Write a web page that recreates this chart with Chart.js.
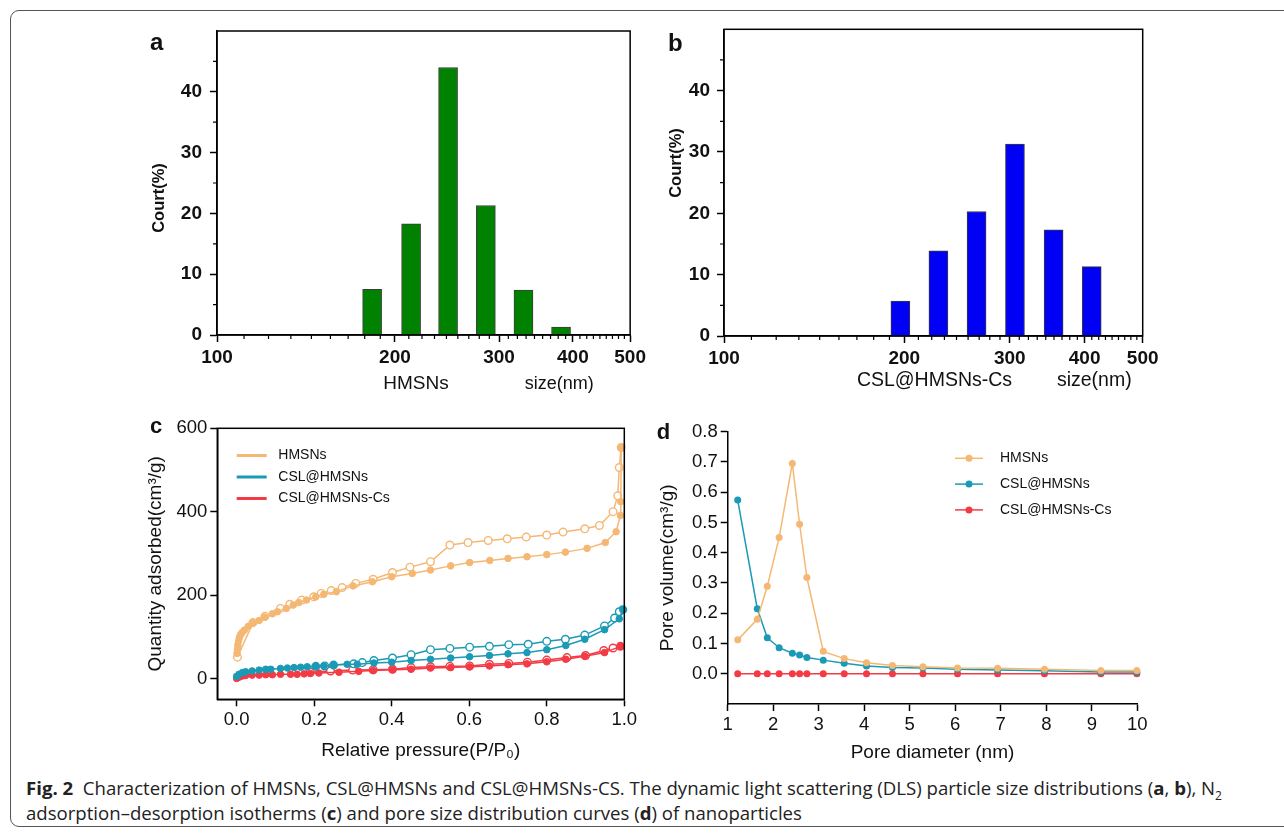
<!DOCTYPE html>
<html>
<head>
<meta charset="utf-8">
<script src="https://cdn.jsdelivr.net/npm/chart.js@4.4.1/dist/chart.umd.min.js"></script>
<style>
  body { margin:0; background:#fff; width:1284px; height:833px; overflow:hidden; position:relative;
         font-family:"Liberation Sans", Arial, sans-serif; color:#111; }
  canvas { position:absolute; }
  .t { position:absolute; white-space:nowrap; line-height:1; }
  #frame { position:absolute; left:10px; top:10px; width:1300px; height:815px;
           border:1.3px solid #555; border-radius:9px; }
  #caption { position:absolute; left:26px; top:774.5px; font-family:"Open Sans", sans-serif;
             font-size:18.6px; line-height:25px; color:#222; white-space:nowrap; }
  #caption sub { font-size:12px; line-height:0; }
</style>
</head>
<body>
<div id="frame"></div>
<canvas id="chartA" width="510" height="390" style="left:140px;top:10px"></canvas>
<canvas id="chartB" width="520" height="390" style="left:650px;top:10px"></canvas>
<canvas id="chartC" width="510" height="360" style="left:140px;top:410px"></canvas>
<canvas id="chartD" width="530" height="360" style="left:640px;top:410px"></canvas>
<div id="caption"><b>Fig. 2</b>&nbsp; Characterization of HMSNs, CSL@HMSNs and CSL@HMSNs-CS. The dynamic light scattering (DLS) particle size distributions (<b>a</b>, <b>b</b>), N<sub>2</sub><br>adsorption–desorption isotherms (<b>c</b>) and pore size distribution curves (<b>d</b>) of nanoparticles</div>

<script>
// ---- a: DLS of HMSNs
const sizeA = [183, 213, 246, 285, 330, 382];
const countA = [7.5, 18.3, 44.0, 21.3, 7.4, 1.3];
// ---- b: DLS of CSL@HMSNs-Cs
const sizeB = [197, 228, 264, 306, 355, 411];
const countB = [5.7, 13.9, 20.3, 31.3, 17.3, 11.3];
const sizeTicks = [100, 200, 300, 400, 500];
const countTicks = [0, 10, 20, 30, 40];
const countMinor = [5, 15, 25, 35, 45];

// ---- c: N2 isotherms (ads = filled, des = open)
const hmsnAdsP = [0.001, 0.002, 0.003, 0.005, 0.007, 0.010, 0.014, 0.020, 0.030, 0.042, 0.058, 0.072, 0.092, 0.105, 0.128, 0.146, 0.160, 0.180, 0.204, 0.225, 0.257, 0.300, 0.350, 0.400, 0.453, 0.500, 0.552, 0.601, 0.653, 0.700, 0.749, 0.800, 0.848, 0.904, 0.951, 0.979, 0.990, 0.991, 0.992];
const hmsnAdsQ = [60, 70, 80, 90, 98, 105, 110, 116, 125, 133, 139, 147, 155, 160, 168, 176, 182, 188, 196, 202, 208, 222, 232, 244, 252, 260, 270, 278, 283, 288, 292, 297, 303, 312, 326, 352, 391, 424, 554];
const hmsnDesP = [0.992, 0.987, 0.983, 0.971, 0.936, 0.898, 0.842, 0.800, 0.747, 0.698, 0.649, 0.597, 0.550, 0.500, 0.447, 0.402, 0.352, 0.307, 0.272, 0.244, 0.218, 0.199, 0.168, 0.137, 0.113, 0.073, 0.042, 0.002];
const hmsnDesQ = [554, 506, 438, 400, 367, 359, 351, 344, 339, 335, 331, 326, 320, 280, 267, 254, 238, 228, 218, 211, 204, 196, 188, 178, 168, 149, 134, 51];

const cslAdsP = [0.000, 0.006, 0.015, 0.023, 0.040, 0.058, 0.075, 0.088, 0.113, 0.131, 0.148, 0.165, 0.182, 0.204, 0.225, 0.250, 0.285, 0.311, 0.354, 0.400, 0.450, 0.500, 0.552, 0.601, 0.652, 0.700, 0.749, 0.800, 0.849, 0.898, 0.949, 0.987, 0.996];
const cslAdsQ = [5, 10, 14, 16, 18, 20, 22, 22, 24, 25, 26, 27, 28, 29, 30, 32, 34, 34, 37, 39, 43, 46, 49, 52, 55, 59, 62, 69, 79, 94, 117, 143, 165];
const cslDesP = [0.996, 0.987, 0.975, 0.949, 0.898, 0.848, 0.800, 0.752, 0.702, 0.652, 0.601, 0.550, 0.500, 0.450, 0.402, 0.354, 0.324, 0.302, 0.250, 0.227, 0.204];
const cslDesQ = [165, 160, 145, 126, 104, 94, 89, 82, 81, 77, 75, 72, 69, 57, 49, 43, 38, 35, 32, 30, 29];

const csAdsP = [0.000, 0.006, 0.015, 0.023, 0.040, 0.058, 0.075, 0.092, 0.113, 0.139, 0.156, 0.174, 0.190, 0.212, 0.264, 0.315, 0.352, 0.402, 0.450, 0.500, 0.552, 0.601, 0.652, 0.700, 0.749, 0.800, 0.849, 0.898, 0.949, 0.990];
const csAdsQ = [0, 3, 6, 7, 8, 8, 9, 9, 10, 10, 10, 11, 12, 13, 15, 17, 19, 21, 22, 25, 26, 28, 30, 33, 35, 40, 46, 53, 62, 77];
const csDesP = [0.990, 0.971, 0.947, 0.900, 0.852, 0.800, 0.750, 0.702, 0.652, 0.601, 0.550, 0.500, 0.450, 0.402, 0.352, 0.299, 0.242, 0.190];
const csDesQ = [77, 73, 67, 55, 50, 44, 39, 36, 34, 30, 29, 28, 26, 22, 21, 20, 18, 15];

const pressTicks = [0, 0.2, 0.4, 0.6, 0.8, 1.0];
const quantTicks = [0, 200, 400, 600];

// ---- d: pore size distribution
const poreD = [1.22, 1.65, 1.87, 2.13, 2.42, 2.58, 2.74, 3.10, 3.56, 4.05, 4.62, 5.29, 6.05, 6.93, 7.96, 9.20, 9.99];
const volHmsn = [0.112, 0.180, 0.289, 0.450, 0.695, 0.494, 0.318, 0.074, 0.050, 0.036, 0.027, 0.023, 0.019, 0.018, 0.015, 0.011, 0.011];
const volCsl = [0.574, 0.215, 0.119, 0.086, 0.068, 0.062, 0.054, 0.045, 0.035, 0.026, 0.021, 0.019, 0.015, 0.012, 0.010, 0.006, 0.006];
const volCs = [0, 0, 0, 0, 0, 0, 0, 0, 0, 0, 0, 0, 0, 0, 0, 0, 0];
const diaTicks = [1, 2, 3, 4, 5, 6, 7, 8, 9, 10];
const volTicks = [0, 0.1, 0.2, 0.3, 0.4, 0.5, 0.6, 0.7, 0.8];

const names = ['HMSNs', 'CSL@HMSNs', 'CSL@HMSNs-Cs'];
const orange = '#F5B874', teal = '#1B9AB5', red = '#F43A44';

Chart.defaults.font.family = '"Liberation Sans", Arial, sans-serif';
Chart.defaults.color = '#111';

// minor ticks between the log labels (Origin style, 8 per hundred)
const sizeMinor = [];
for (let k = 100; k < 500; k += 100) {
  for (let j = 1; j < 9; j++) sizeMinor.push(k + j * 100 / 9);
}

const frameBox = {
  id: 'frameBox',
  afterDraw(chart) {
    const {ctx, chartArea: a} = chart;
    ctx.save();
    ctx.strokeStyle = '#000';
    ctx.lineWidth = 1.5;
    ctx.strokeRect(a.left, a.top, a.right - a.left, a.bottom - a.top);
    ctx.restore();
  }
};

const minorTicks = {
  id: 'minorTicks',
  afterDraw(chart, args, opts) {
    const {ctx, chartArea: a, scales} = chart;
    ctx.save();
    ctx.strokeStyle = '#000';
    ctx.lineWidth = 1.2;
    ctx.beginPath();
    (opts.x || []).forEach(v => {
      const px = scales.x.getPixelForValue(v);
      ctx.moveTo(px, a.bottom);
      ctx.lineTo(px, a.bottom + opts.len);
    });
    (opts.y || []).forEach(v => {
      const py = scales.y.getPixelForValue(v);
      ctx.moveTo(a.left - opts.len, py);
      ctx.lineTo(a.left, py);
    });
    ctx.stroke();
    ctx.restore();
  }
};

const innerLegend = {
  id: 'innerLegend',
  afterDraw(chart, args, o) {
    const ctx = chart.ctx;
    const items = chart.data.datasets.filter(d => !d.noLegend);
    ctx.save();
    items.forEach((ds, i) => {
      const yy = o.y + i * o.gap;
      ctx.strokeStyle = ds.borderColor;
      ctx.lineWidth = o.lineWidth;
      ctx.beginPath();
      ctx.moveTo(o.x, yy);
      ctx.lineTo(o.x + o.len, yy);
      ctx.stroke();
      if (o.marker) {
        ctx.fillStyle = ds.borderColor;
        ctx.beginPath();
        ctx.arc(o.x + o.len / 2, yy, o.marker, 0, Math.PI * 2);
        ctx.fill();
      }
      ctx.fillStyle = '#111';
      ctx.font = o.font;
      ctx.textBaseline = 'middle';
      ctx.fillText(ds.label, o.x + o.len + o.textGap, yy);
    });
    ctx.restore();
  }
};

const axisGrid = {drawOnChartArea: false, offset: false, color: '#000', tickLength: 7, tickWidth: 1.5};
const axisBorder = {color: '#000', width: 1.5};

function dlsChart(id, sizes, counts, color, box) {
  return new Chart(document.getElementById(id), {
    type: 'bar',
    data: {
      datasets: [{
        data: sizes.map((s, i) => ({x: s, y: counts[i]})),
        backgroundColor: color,
        borderColor: '#3c3c3c',
        borderWidth: 1,
        barThickness: 19
      }]
    },
    options: {
      responsive: false,
      animation: false,
      layout: {padding: {left: 0, top: box.top, right: box.right, bottom: 0}},
      plugins: {
        legend: {display: false},
        tooltip: {enabled: false},
        minorTicks: {x: sizeMinor, y: countMinor, len: 4}
      },
      scales: {
        x: {
          type: 'logarithmic', min: 100, max: 500, offset: false,
          afterBuildTicks: s => { s.ticks = sizeTicks.map(v => ({value: v})); },
          afterFit: s => { s.height = box.xh; },
          ticks: {callback: v => String(v), font: {size: 19, weight: 'bold'}, padding: 4, maxRotation: 0, autoSkip: false},
          grid: axisGrid, border: axisBorder
        },
        y: {
          min: 0, max: 50,
          afterBuildTicks: s => { s.ticks = countTicks.map(v => ({value: v})); },
          afterFit: s => { s.width = box.yw; },
          ticks: {font: {size: 19, weight: 'bold'}, padding: box.ypad},
          grid: axisGrid, border: axisBorder
        }
      }
    },
    plugins: [frameBox, minorTicks]
  });
}

dlsChart('chartA', sizeA, countA, '#008200', {top: 21, right: 17, xh: 65, yw: 77, ypad: 8});
dlsChart('chartB', sizeB, countB, '#0000F5', {top: 19.3, right: 27.3, xh: 64, yw: 74, ypad: 7});

function pts(xs, ys) { return xs.map((x, i) => ({x: x, y: ys[i]})); }

function isoSets(label, color, ap, aq, dp, dq) {
  return [
    {label: label, data: pts(ap, aq), borderColor: color, backgroundColor: color,
     pointBackgroundColor: color, pointBorderColor: color, pointRadius: 3.3, pointBorderWidth: 1,
     borderWidth: 1.5, showLine: true, clip: false},
    {label: label, noLegend: true, data: pts(dp, dq), borderColor: color, backgroundColor: '#fff',
     pointBackgroundColor: '#fff', pointBorderColor: color, pointRadius: 3.8, pointBorderWidth: 1.4,
     borderWidth: 1.5, showLine: true, clip: false}
  ];
}

new Chart(document.getElementById('chartC'), {
  type: 'scatter',
  data: {
    datasets: [].concat(
      isoSets(names[0], orange, hmsnAdsP, hmsnAdsQ, hmsnDesP, hmsnDesQ),
      isoSets(names[1], teal, cslAdsP, cslAdsQ, cslDesP, cslDesQ),
      isoSets(names[2], red, csAdsP, csAdsQ, csDesP, csDesQ)
    )
  },
  options: {
    responsive: false,
    animation: false,
    layout: {padding: {left: 0, top: 18.3, right: 25.7, bottom: 0}},
    plugins: {
      legend: {display: false},
      tooltip: {enabled: false},
      innerLegend: {x: 96.7, y: 45.5, gap: 21.5, len: 30, textGap: 11.6, lineWidth: 3, marker: 0,
                    font: '14px "Liberation Sans", Arial, sans-serif'}
    },
    scales: {
      x: {
        type: 'linear', min: -0.05, max: 1.0,
        afterBuildTicks: s => { s.ticks = pressTicks.map(v => ({value: v})); },
        afterFit: s => { s.height = 70.7; },
        ticks: {callback: v => v.toFixed(1), font: {size: 18.5}, padding: 3, maxRotation: 0},
        title: {display: true, text: 'Relative pressure(P/P₀)', font: {size: 19}, padding: {top: 0, bottom: 7.9}, color: '#111'},
        grid: axisGrid, border: axisBorder
      },
      y: {
        min: -50, max: 600,
        afterBuildTicks: s => { s.ticks = quantTicks.map(v => ({value: v})); },
        afterFit: s => { s.width = 77.3; },
        ticks: {font: {size: 18.5}, padding: 3},
        title: {display: true, text: 'Quantity adsorbed(cm³/g)', font: {size: 19}, padding: {top: 4.6, bottom: 0}, color: '#111'},
        grid: axisGrid, border: axisBorder
      }
    }
  },
  plugins: [frameBox, innerLegend]
});

function poreSet(label, color, vals) {
  return {label: label, data: pts(poreD, vals), borderColor: color, backgroundColor: color,
          pointBackgroundColor: color, pointBorderColor: color, pointRadius: 3.5, pointBorderWidth: 0,
          borderWidth: 1.5, showLine: true, clip: false};
}

new Chart(document.getElementById('chartD'), {
  type: 'scatter',
  data: {
    datasets: [poreSet(names[0], orange, volHmsn), poreSet(names[1], teal, volCsl), poreSet(names[2], red, volCs)]
  },
  options: {
    responsive: false,
    animation: false,
    layout: {padding: {left: 0, top: 21.7, right: 32.7, bottom: 0}},
    plugins: {
      legend: {display: false},
      tooltip: {enabled: false},
      innerLegend: {x: 315, y: 48.3, gap: 25.8, len: 28, textGap: 17, lineWidth: 1.5, marker: 3.5,
                    font: '14px "Liberation Sans", Arial, sans-serif'}
    },
    scales: {
      x: {
        type: 'linear', min: 1, max: 10,
        afterBuildTicks: s => { s.ticks = diaTicks.map(v => ({value: v})); },
        afterFit: s => { s.height = 66; },
        ticks: {font: {size: 18.5}, padding: 3, maxRotation: 0},
        title: {display: true, text: 'Pore diameter (nm)', font: {size: 19}, padding: {top: 0, bottom: 5.6}, color: '#111'},
        grid: axisGrid, border: axisBorder
      },
      y: {
        min: -0.1, max: 0.8,
        afterBuildTicks: s => { s.ticks = volTicks.map(v => ({value: v})); },
        afterFit: s => { s.width = 87.7; },
        ticks: {callback: v => v.toFixed(1), font: {size: 18.5}, padding: 3},
        title: {display: true, text: 'Pore volume(cm³/g)', font: {size: 19}, padding: {top: 16.6, bottom: 0}, color: '#111'},
        grid: axisGrid, border: axisBorder
      }
    }
  },
  plugins: [innerLegend]
});

// free-standing labels: x = anchor, y = baseline
function txt(text, x, y, size, weight, align) {
  const el = document.createElement('div');
  el.className = 't';
  el.textContent = text;
  el.style.fontSize = size + 'px';
  el.style.fontWeight = weight;
  el.style.left = x + 'px';
  el.style.top = (y - 0.8465 * size) + 'px';
  if (align === 'center') el.style.transform = 'translateX(-50%)';
  document.body.appendChild(el);
  return el;
}
function vtxt(text, cx, cy, size) {
  const el = document.createElement('div');
  el.className = 't';
  el.textContent = text;
  el.style.fontSize = size + 'px';
  el.style.fontWeight = 'bold';
  el.style.left = cx + 'px';
  el.style.top = cy + 'px';
  el.style.transform = 'translate(-50%,-50%) rotate(-90deg)';
  document.body.appendChild(el);
}

txt('a', 150, 50.7, 24, 'bold', 'left');
txt('b', 668, 51, 24, 'bold', 'left');
txt('c', 150, 434, 22, 'bold', 'left');
txt('d', 656.7, 439.3, 22, 'bold', 'left');
txt('HMSNs', 416, 389.3, 19, 'normal', 'center');
txt('size(nm)', 559.3, 389.3, 18, 'normal', 'center');
txt('CSL@HMSNs-Cs', 934.5, 386.7, 19.5, 'normal', 'center');
txt('size(nm)', 1094.3, 386.7, 19.5, 'normal', 'center');
vtxt('Court(%)', 158, 198, 16.5);
vtxt('Court(%)', 675, 162.5, 16.5);
</script>
</body>
</html>
